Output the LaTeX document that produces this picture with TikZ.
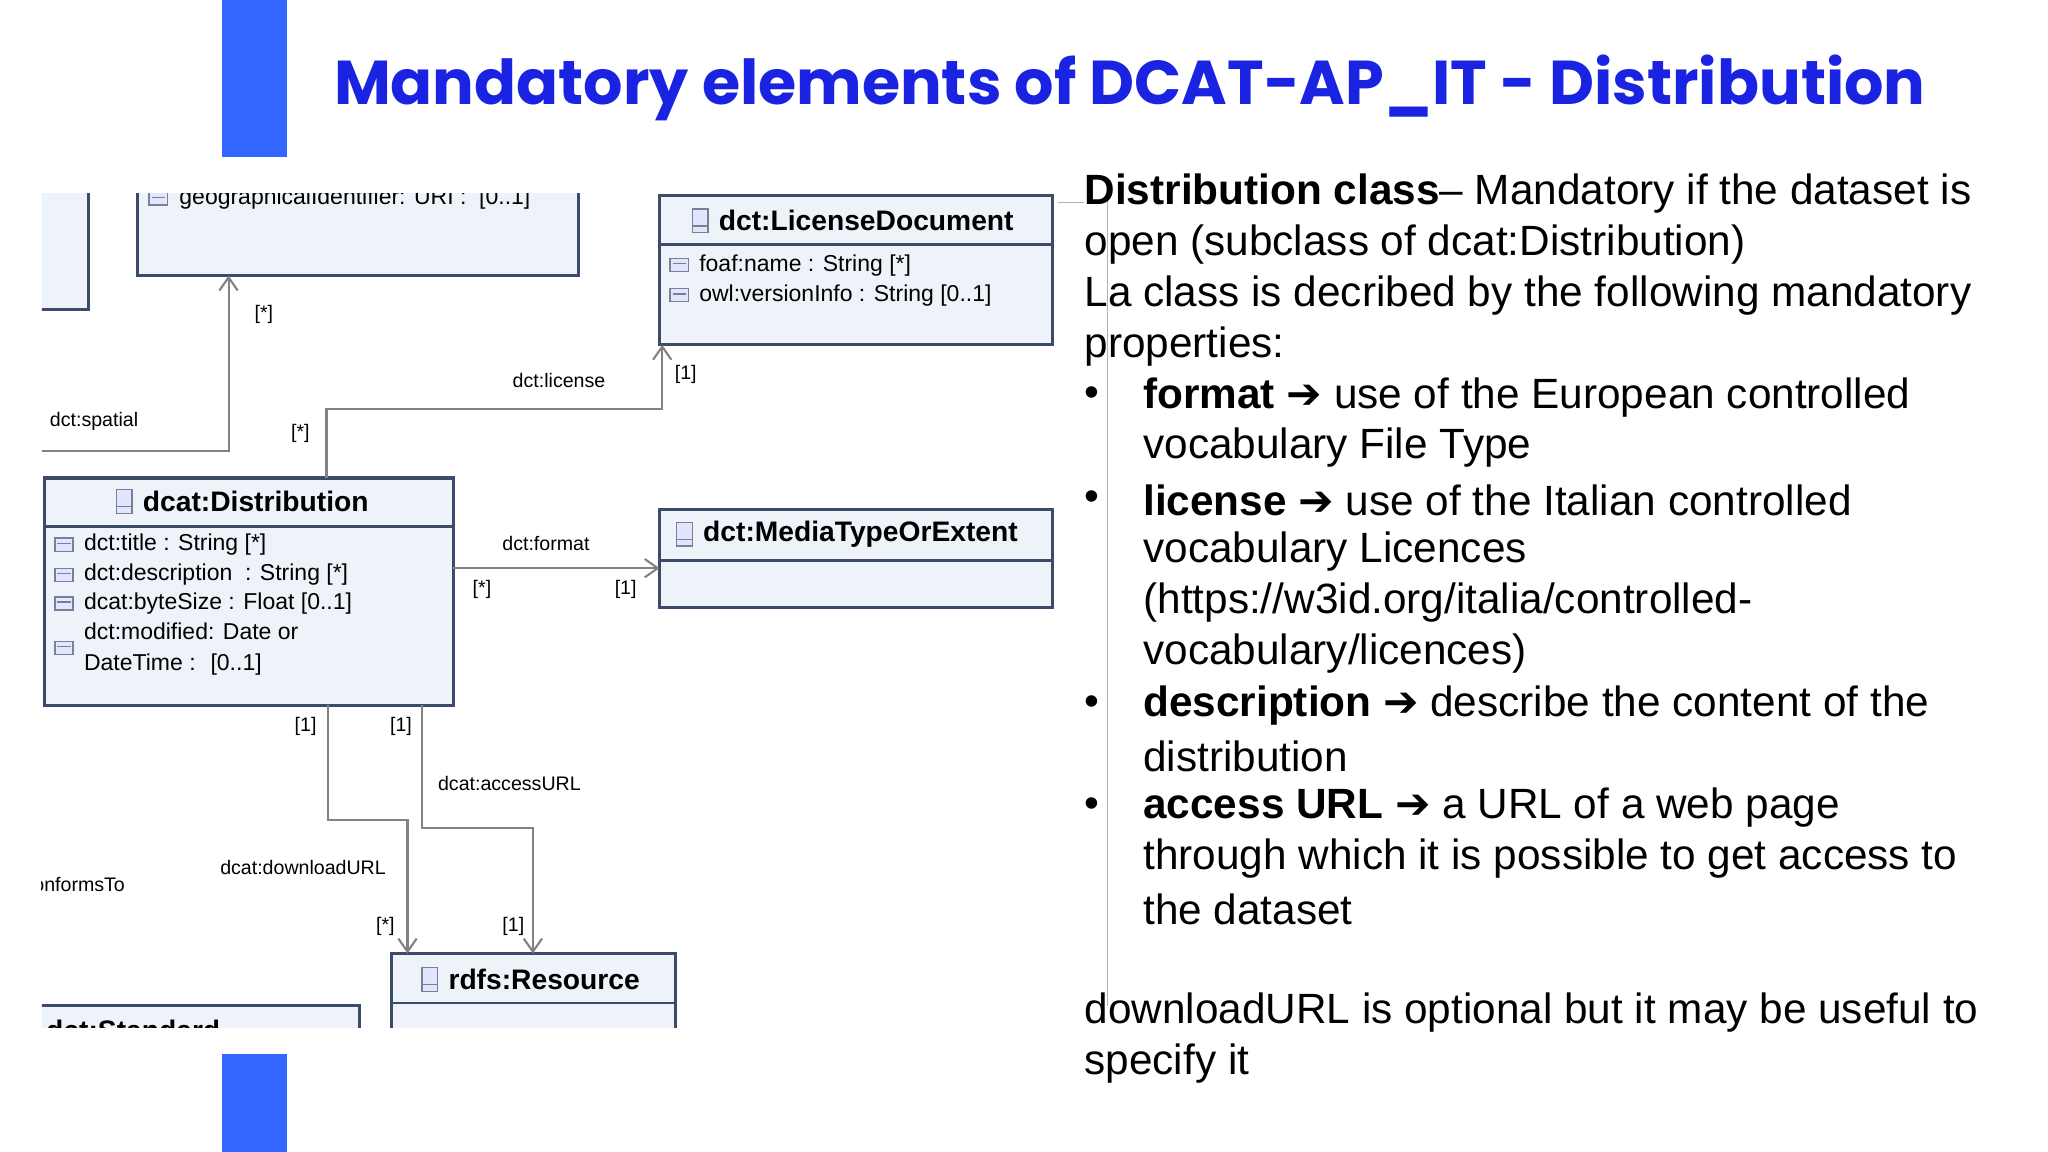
\documentclass[tikz,border=0pt]{standalone}
\usepackage{fontspec}
\setmainfont{Liberation Sans}
\newfontfamily\ttlfont{Poppins}
\newfontfamily\arrfont{DejaVu Sans}
\usetikzlibrary{arrows.meta}
\definecolor{barblue}{RGB}{51,102,255}
\definecolor{ttlblue}{RGB}{25,35,225}
\definecolor{boxfill}{RGB}{238,243,250}
\definecolor{boxline}{RGB}{60,75,105}
\definecolor{conn}{RGB}{130,130,130}
\tikzset{
 umlbox/.style={draw=boxline,fill=boxfill,line width=1.2pt},
 cline/.style={draw=conn,line width=0.8pt},
 carrow/.style={cline,-{Straight Barb[length=5pt,width=7pt]}},
 lbl/.style={font=\fontsize{7.5}{9}\selectfont,inner sep=0pt},
 attr/.style={font=\fontsize{8.8}{10}\selectfont,anchor=west,inner sep=0pt},
 cls/.style={font=\fontsize{10.8}{12}\selectfont\bfseries,anchor=west,inner sep=0pt},
 rt/.style={font=\fontsize{16.2}{19}\selectfont,anchor=west,inner sep=0pt},
 iconst/.style={draw=boxline!70,fill=boxfill!60!blue!25,line width=0.5pt}
}
\newcommand\ar{{\arrfont\bfseries ➔}}
\newcommand\icn[2]{\draw[iconst] (#1-7,#2-5) rectangle (#1+7,#2+5); \draw[boxline!70,line width=0.5pt] (#1-5,#2-1) -- (#1+5,#2-1);}
\newcommand\cicn[2]{\draw[iconst] (#1-6,#2-9) rectangle (#1+6,#2+9); \draw[boxline!70,line width=0.5pt] (#1-6,#2+4) -- (#1+6,#2+4);}
\begin{document}
\begin{tikzpicture}[x=0.5pt,y=-0.5pt]
\useasboundingbox (0,0) rectangle (1568,882);
\fill[white] (0,0) rectangle (1568,882);
\fill[barblue] (170,0) rectangle (220,120);
\fill[barblue] (170,807) rectangle (220,882);
\node[font=\ttlfont\fontsize{23.7}{28}\selectfont\bfseries,text=ttlblue,inner sep=0pt] (ttl) at (865,67) {Mandatory elements of DCAT-AP\_IT - Distribution};

\begin{scope}
\clip (32,148) rectangle (812,787);
\draw[umlbox] (0,130) rectangle (68,237);
\draw[umlbox] (105,130) rectangle (443,211);
\icn{121}{152}
\node[attr] (geo) at (137,152) {geographicalIdentifier: URI : \ [0..1]};
\draw[umlbox] (505,150) rectangle (806,264); \draw[boxline,line width=1pt] (505,187) -- (806,187);
\cicn{536}{169}
\node[cls] (lic) at (550,169) {dct:LicenseDocument};
\icn{520}{203}\node[attr] (l1) at (535,203) {foaf:name : String [*]};
\icn{520}{226}\node[attr] (l2) at (535,226) {owl:versionInfo : String [0..1]};
\draw[umlbox] (34,366) rectangle (347,540); \draw[boxline,line width=1pt] (34,403) -- (347,403);
\cicn{95}{384}
\node[cls] (dist) at (109,384) {dcat:Distribution};
\icn{49}{417}\node[attr] (d1) at (64,417) {dct:title : String [*]};
\icn{49}{440}\node[attr] (d2) at (64,440) {dct:description \ : String [*]};
\icn{49}{462}\node[attr] (d3) at (64,462) {dcat:byteSize : Float [0..1]};
\icn{49}{496}\node[attr,align=left] (d4) at (64,497) {dct:modified: Date or\\[2pt]DateTime : \ [0..1]};
\draw[umlbox] (505,390) rectangle (806,465); \draw[boxline,line width=1pt] (505,429) -- (806,429);
\cicn{524}{409}
\node[cls] (mt) at (538,409) {dct:MediaTypeOrExtent};
\draw[umlbox] (300,730) rectangle (517,800); \draw[boxline,line width=1pt] (300,768) -- (517,768);
\cicn{329}{750}
\node[cls] (res) at (343,750) {rdfs:Resource};
\draw[umlbox] (0,770) rectangle (275,800);
\node[cls] (std) at (35,789) {dct:Standard};
\coordinate (sp0) at (0,345);
\draw[carrow] (sp0) -| (175,211);
\node[lbl] at (72,323) {dct:spatial};
\node[lbl] at (202,241) {[*]};
\draw[carrow] (250,366) |- (507,313) -- (507,264);
\node[lbl] at (428,291) {dct:license};
\node[lbl] at (230,332) {[*]};
\node[lbl] at (525,287) {[1]};
\draw[carrow] (347,435) -- (505,435);
\node[lbl] at (418,416) {dct:format};
\node[lbl] at (369,451) {[*]};
\node[lbl] at (479,451) {[1]};
\draw[carrow] (251,540) |- (312,628) -- (312,730);
\node[lbl] at (234,556) {[1]};
\node[lbl] at (232,664) {dcat:downloadURL};
\node[lbl] at (295,709) {[*]};
\draw[carrow] (323,540) |- (408,634) -- (408,730);
\node[lbl] at (307,556) {[1]};
\node[lbl] at (390,600) {dcat:accessURL};
\node[lbl] at (393,709) {[1]};
\node[lbl,anchor=east] at (96,677) {dct:conformsTo};
\end{scope}

\draw[gray!60,line width=0.6pt] (848,150) -- (848,770);
\draw[gray!60,line width=0.6pt] (810,155) -- (830,155);
\node[rt] at (830,148) {\textbf{Distribution class}– Mandatory if the dataset is};
\node[rt] at (830,187) {open (subclass of dcat:Distribution)};
\node[rt] at (830,226) {La class is decribed by the following mandatory};
\node[rt] at (830,265) {properties:};
\foreach \y in {304,383,540,618} \node[rt] at (830,\y) {•};
\node[rt] at (875,304) {\textbf{format} \ar{} use of the European controlled};
\node[rt] at (875,343) {vocabulary File Type};
\node[rt] at (875,383) {\textbf{license} \ar{} use of the Italian controlled};
\node[rt] at (875,422) {vocabulary Licences};
\node[rt] at (875,461) {(https://w3id.org/italia/controlled-};
\node[rt] at (875,500) {vocabulary/licences)};
\node[rt] at (875,540) {\textbf{description} \ar{} describe the content of the};
\node[rt] at (875,579) {distribution};
\node[rt] at (875,618) {\textbf{access URL} \ar{} a URL of a web page};
\node[rt] at (875,657) {through which it is possible to get access to};
\node[rt] at (875,696) {the dataset};
\node[rt] at (830,775) {downloadURL is optional but it may be useful to};
\node[rt] at (830,814) {specify it};
\end{tikzpicture}
\end{document}
